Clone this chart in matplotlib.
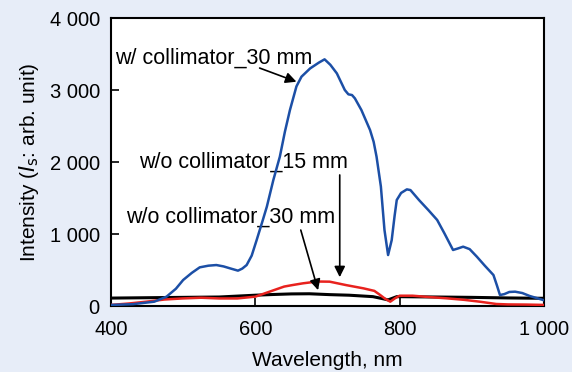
import matplotlib.pyplot as plt
from matplotlib.ticker import FuncFormatter

plt.rcParams['font.family'] = ['Liberation Sans', 'DejaVu Sans']

# w/ collimator_30 mm (blue)
blue_wl = [400, 430, 460, 477, 490, 500, 512, 523, 535, 546, 556, 566, 576, 582, 588,
           595, 602, 610, 616, 625, 634, 641, 648, 657, 664, 676, 688, 696, 704, 713,
           724, 729, 734, 738, 747, 759, 764, 768, 774, 779, 784, 789, 793, 796, 802,
           810, 815, 827, 840, 852, 862, 874, 881, 888, 897, 907, 918, 930, 935, 939,
           945, 952, 960, 970, 980, 990, 999, 1000]
blue_int = [15, 25, 60, 130, 240, 361, 460, 537, 560, 569, 550, 520, 491, 520, 569,
            700, 920, 1180, 1380, 1750, 2074, 2420, 2722, 3050, 3185, 3300, 3380, 3426, 3350, 3231,
            3000, 2940, 2930, 2884, 2722, 2444, 2280, 2074, 1660, 1055, 708, 915, 1250, 1472, 1570,
            1620, 1610, 1470, 1330, 1195, 1010, 778, 800, 824, 790, 685, 560, 430, 280, 153,
            165, 195, 199, 180, 140, 110, 83, 80]

# w/o collimator_15 mm (red)
red_wl = [400, 425, 449, 474, 499, 525, 550, 575, 600, 620, 640, 651, 666, 686, 703,
          726, 750, 765, 773, 780, 787, 794, 800, 818, 840, 865, 890, 911, 934, 950,
          975, 1000]
red_int = [15, 35, 60, 90, 105, 115, 105, 105, 130, 200, 270, 290, 315, 340, 338,
           290, 245, 210, 153, 100, 60, 110, 143, 143, 125, 107, 85, 60, 28, 22,
           20, 15]

# w/o collimator_30 mm (black)
black_wl = [400, 450, 500, 550, 600, 625, 650, 675, 703, 730, 763, 775, 784, 796, 850,
            900, 950, 1000]
black_int = [110, 115, 120, 125, 150, 160, 168, 170, 158, 150, 130, 105, 85, 130, 125,
             120, 112, 107]

fig = plt.figure(figsize=(5.72, 3.72), dpi=100, facecolor='#e7edf8')
ax = fig.add_axes([0.194, 0.1774, 0.757, 0.7742])
ax.set_facecolor('white')

ax.plot(black_wl, black_int, color='black', lw=2.2, zorder=2)
ax.plot(red_wl, red_int, color='#e8221e', lw=1.8, zorder=3)
ax.plot(blue_wl, blue_int, color='#1c4fa6', lw=1.8, zorder=4)

ax.set_xlim(400, 1000)
ax.set_ylim(0, 4000)
ax.set_xticks([400, 600, 800, 1000])
ax.set_yticks([0, 1000, 2000, 3000, 4000])
fmt = FuncFormatter(lambda v, p: f"{int(v):,}".replace(",", " "))
ax.xaxis.set_major_formatter(fmt)
ax.yaxis.set_major_formatter(fmt)
ax.tick_params(direction='in', length=6, width=1.2, labelsize=14.5)
ax.tick_params(axis='x', pad=10)
ax.tick_params(axis='y', pad=8)
for s in ax.spines.values():
    s.set_linewidth(1.5)

ax.set_xlabel("Wavelength, nm", fontsize=15, labelpad=9)
ax.set_ylabel("Intensity ($I_{\\mathrm{s}}$: arb. unit)", fontsize=15, labelpad=6)

arrow = dict(arrowstyle='-|>', color='black', lw=1.2, mutation_scale=16, shrinkA=0, shrinkB=0)
ax.text(405, 3440, "w/ collimator_30 mm", fontsize=15.5, va='center', ha='left')
ax.annotate("", xy=(657, 3115), xytext=(606, 3305), arrowprops=arrow)
ax.text(439, 2000, "w/o collimator_15 mm", fontsize=15.5, va='center', ha='left')
ax.annotate("", xy=(717, 400), xytext=(717, 1820), arrowprops=arrow)
ax.text(421, 1230, "w/o collimator_30 mm", fontsize=15.5, va='center', ha='left')
ax.annotate("", xy=(687, 220), xytext=(663, 1055), arrowprops=arrow)

fig.savefig("out.png", dpi=100, facecolor=fig.get_facecolor())
